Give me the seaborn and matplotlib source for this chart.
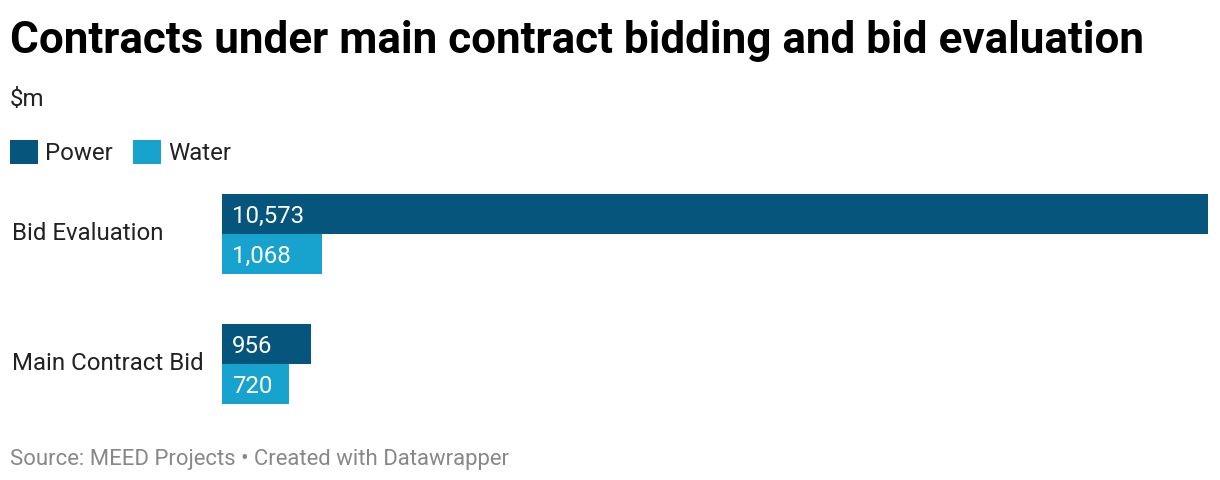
import matplotlib
matplotlib.use("Agg")
import matplotlib.pyplot as plt
import seaborn as sns
import pandas as pd
from matplotlib.patches import Patch
from matplotlib.transforms import ScaledTranslation

categories = ["Bid Evaluation", "Main Contract Bid"]
series = ["Power", "Water"]
power_values = [10573, 956]
water_values = [1068, 720]
colors = {"Power": "#05557d", "Water": "#18a3cf"}

rows = []
for i, c in enumerate(categories):
    rows.append({"category": c, "series": "Power", "value": power_values[i]})
    rows.append({"category": c, "series": "Water", "value": water_values[i]})
df = pd.DataFrame(rows)

sns.set_theme(style="white")
plt.rcParams["font.family"] = ["Roboto", "DejaVu Sans"]

W, H = 1220, 480
fig = plt.figure(figsize=(W / 100, H / 100), dpi=100)

left_px, right_px = 222, 1208
top_px, bot_px = 180, 420
ax = fig.add_axes([left_px / W, 1 - bot_px / H, (right_px - left_px) / W, (bot_px - top_px) / H])

sns.barplot(data=df, y="category", x="value", hue="series", palette=colors,
            orient="h", width=80 / 130, ax=ax, legend=False, saturation=1,
            order=categories, hue_order=series, linewidth=0)

ax.set_xlim(0, 10573)
unit = 130
ax.set_ylim(1 + (bot_px - 364) / unit, -(234 - top_px) / unit)
for s in ax.spines.values():
    s.set_visible(False)
ax.set_xticks([])
ax.set_xlabel("")
ax.set_ylabel("")
ax.tick_params(axis="y", length=0, pad=210 * 72 / 100)
for lab in ax.get_yticklabels():
    lab.set_ha("left")
    lab.set_fontsize(17.3)
    lab.set_color("#222222")
    lab.set_va("center_baseline")
    lab.set_transform(lab.get_transform() + ScaledTranslation(0, 3 / 100, fig.dpi_scale_trans))

# value labels inside bars
for cont, vals in zip(ax.containers, [power_values, water_values]):
    for patch, v in zip(cont.patches, vals):
        yc = patch.get_y() + patch.get_height() / 2
        ax.annotate(f"{v:,}", xy=(0, yc), xytext=(10 * 72 / 100, 0),
                    textcoords="offset points", ha="left", va="center_baseline",
                    color="white", fontsize=17.3)

# title etc
fig.text(10 / W, 1 - 36 / H, "Contracts under main contract bidding and bid evaluation",
         fontsize=31.7, fontweight="bold", ha="left", va="center_baseline", color="#000000")
fig.text(10 / W, 1 - 97 / H, "$m", fontsize=17.3, ha="left", va="center_baseline", color="#222222")

handles = [Patch(facecolor=colors[s], edgecolor="none", label=s) for s in series]
leg = fig.legend(handles=handles, loc="upper left", bbox_to_anchor=(10 / W, 1 - 140 / H),
                 ncol=2, frameon=False, fontsize=17.3, handlelength=1.15, handleheight=1.15,
                 handletextpad=0.3, columnspacing=0.85, borderpad=0, borderaxespad=0)
for t in leg.get_texts():
    t.set_color("#222222")

fig.text(10 / W, 1 - 457 / H, "Source: MEED Projects • Created with Datawrapper",
         fontsize=15.9, ha="left", va="center_baseline", color="#888888")

fig.savefig("out.png", dpi=100)
